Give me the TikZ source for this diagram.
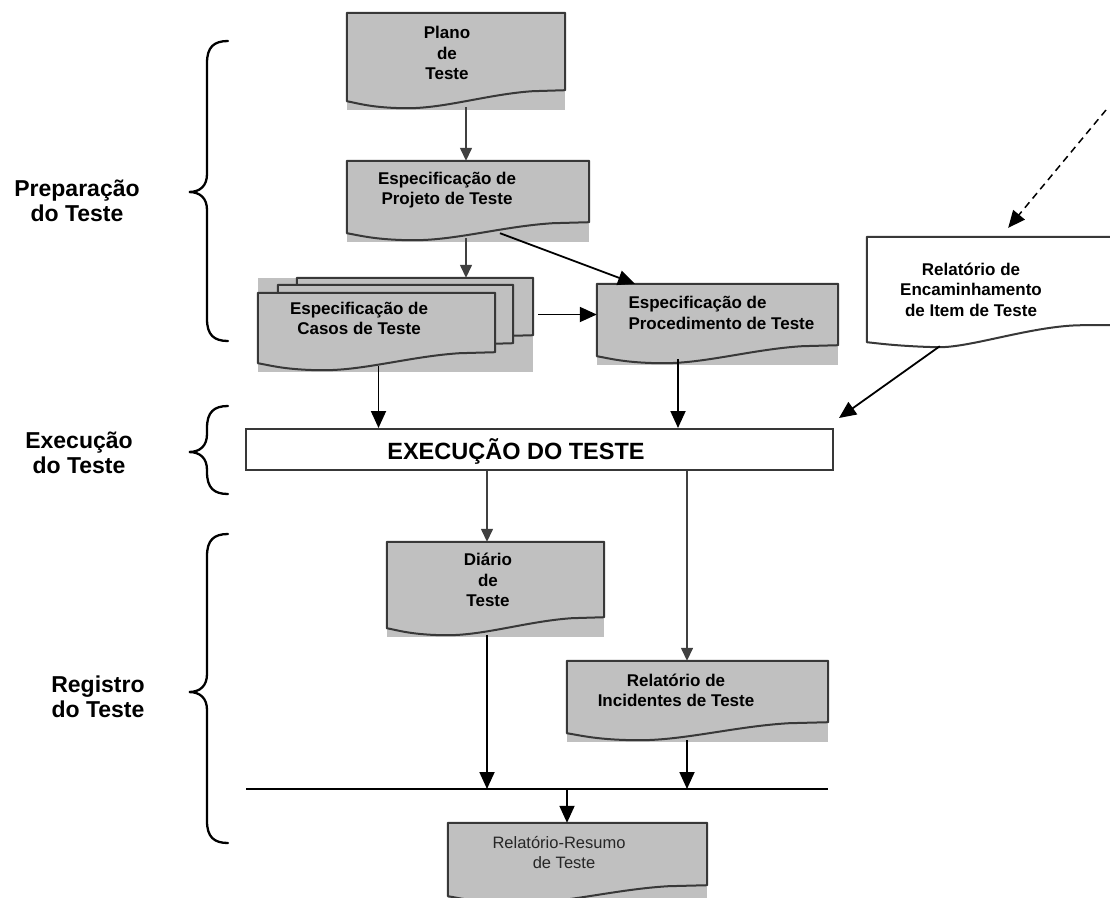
\documentclass[tikz,border=0pt]{standalone}
\usepackage{fontspec}
\setmainfont{Liberation Sans}
\usetikzlibrary{calc}
\usetikzlibrary{arrows.meta}
\definecolor{doc_fill}{HTML}{C0C0C0}
\definecolor{doc_edge}{HTML}{383838}
\definecolor{arrow_gray}{HTML}{404040}
\tikzset{ doc/.style = {rectangle, inner sep=0pt} }
\tikzset{ doc_text/.style = {align=center, font=\bfseries\fontsize{17}{20.5}\selectfont} }
\tikzset{ phase/.style = {align=center, font=\bfseries\fontsize{23}{24.5}\selectfont} }
\tikzset{ flow/.style = {draw=black, line width=1.8pt, -{Triangle[length=17pt,width=15pt]}} }
\tikzset{ flow_gray/.style = {draw=arrow_gray, line width=1.4pt, -{Triangle[length=13pt,width=12pt]}} }
\tikzset{ brace_line/.style = {draw=black, line width=2.3pt, line cap=round} }

% sheet with a wavy lower edge, #1 = node, #2 = fill
\newcommand{\docshape}[2]{%
  \fill[#2] (#1.north west) rectangle ($(#1.south east)+(0,20)$);
  \filldraw[fill=#2, draw=doc_edge, line width=2pt, line join=round]
    ($(#1.south west)+(0,11)$) -- (#1.north west) -- (#1.north east) -- (#1.south east)
    -- ($(#1.south west)!0.85!(#1.south east)+(0,1)$)
    .. controls ($(#1.south west)!0.65!(#1.south east)+(0,4)$) and ($(#1.south west)!0.45!(#1.south east)+(0,18)$)
    .. ($(#1.south west)!0.28!(#1.south east)+(0,18)$)
    .. controls ($(#1.south west)!0.12!(#1.south east)+(0,18)$) and ($(#1.south west)!0.05!(#1.south east)+(0,13)$)
    .. ($(#1.south west)+(0,11)$) -- cycle;
}
% curly bracket on the left, #1 = top, #2 = tip, #3 = bottom
\newcommand{\phasebrace}[3]{%
  \draw[brace_line] (228,#1) .. controls (214,#1) and (207,#1+6) .. (207,#1+22)
    -- (207,#2-18) .. controls (207,#2-6) and (200,#2) .. (189,#2)
    .. controls (200,#2) and (207,#2+6) .. (207,#2+18)
    -- (207,#3-22) .. controls (207,#3-6) and (214,#3) .. (228,#3);
}

\begin{document}
\begin{tikzpicture}[x=1pt, y=-1pt]
    \useasboundingbox (0,0) rectangle (1110,897);

    % documents
    \node [doc, minimum width=218pt, minimum height=77pt] (plano) at (456, 51.5) {};
    \node [doc, minimum width=242pt, minimum height=61pt] (projeto) at (468, 191.5) {};
    \node [doc, minimum width=236pt, minimum height=57pt] (casos3) at (415, 306.5) {};
    \node [doc, minimum width=235pt, minimum height=58pt] (casos2) at (395.5, 314) {};
    \node [doc, minimum width=237pt, minimum height=59pt] (casos) at (376.5, 322.5) {};
    \node [doc, minimum width=241pt, minimum height=61pt] (proced) at (717.5, 314.5) {};
    \node [doc, minimum width=206pt, minimum height=105pt] (encam) at (970, 289.5) {};
    \node [doc, minimum width=217pt, minimum height=75pt] (diario) at (495.5, 579.5) {};
    \node [doc, minimum width=261pt, minimum height=61pt] (incid) at (697.5, 691.5) {};
    \node [doc, minimum width=259pt, minimum height=62pt] (resumo) at (577.5, 854) {};

    \docshape{plano}{doc_fill}
    \docshape{projeto}{doc_fill}
    \fill[doc_fill] (casos.west |- casos3.north) rectangle ($(casos3.east |- casos.south)+(0,20)$);
    \docshape{casos3}{doc_fill}
    \docshape{casos2}{doc_fill}
    \docshape{casos}{doc_fill}
    \docshape{proced}{doc_fill}
    \docshape{diario}{doc_fill}
    \docshape{incid}{doc_fill}
    \docshape{resumo}{doc_fill}
    \filldraw[fill=white, draw=doc_edge, line width=2pt, line join=round]
        (encam.south west) -- (encam.north west) -- ($(encam.north east)+(60,0)$)
        -- ($(encam.south east)+(60,-17)$) -- ($(encam.south east)+(10,-17)$)
        .. controls ($(encam.south east)+(-40,-17)$) and ($(encam.south west)!0.5!(encam.south east)+(0,6)$)
        .. ($(encam.south west)!0.34!(encam.south east)+(0,5)$)
        .. controls ($(encam.south west)!0.15!(encam.south east)+(0,4)$) and ($(encam.south west)+(10,1)$)
        .. (encam.south west) -- cycle;

    \node [doc_text] (plano_t) at (447, 53) {Plano\\de\\Teste};
    \node [doc_text] (projeto_t) at (447, 190) {Especificação de\\Projeto de Teste};
    \node [doc_text] (casos_t) at (359, 318.5) {Especificação de\\Casos de Teste};
    \node [doc_text, align=left, anchor=west] (proced_t) at (625, 313) {Especificação de\\ Procedimento de Teste};
    \node [doc_text] (encam_t) at (971, 289.5) {Relatório de\\Encaminhamento\\de Item de Teste};
    \node [doc_text] (diario_t) at (488, 580) {Diário\\de\\Teste};
    \node [doc_text] (incid_t) at (676, 690.5) {Relatório de\\Incidentes de Teste};
    \node [doc_text, font=\fontsize{16.5}{20}\selectfont, text=black!85] (resumo_t) at (559, 852.5) {Relatório-Resumo\\\hspace*{10pt}de Teste};

    % execution box
    \node [doc, draw=doc_edge, line width=2pt, fill=white, minimum width=587pt, minimum height=41pt] (exec) at (539.5, 449.5) {};
    \node [font=\bfseries\fontsize{23.5}{26}\selectfont] (exec_t) at (516, 451) {EXECUÇÃO DO TESTE};

    % phases
    \phasebrace{41}{192}{341}
    \phasebrace{406}{452}{494}
    \phasebrace{534}{692}{843}
    \node [phase] (prep_t) at (77, 201) {Preparação\\do Teste};
    \node [phase] (execl_t) at (79, 453) {Execução\\do Teste};
    \node [phase] (reg_t) at (98, 697) {Registro\\do Teste};

    % connectors
    \coordinate (bar_l) at (246, 789);
    \coordinate (bar_r) at (828, 789);
    \coordinate (src) at (1106, 110);
    \draw[flow_gray] ([xshift=10pt,yshift=-17pt]plano.south) -- ([xshift=-2pt]projeto.north);
    \draw[flow_gray] ([xshift=-2pt,yshift=-16pt]projeto.south) -- ([xshift=51pt]casos3.north);
    \draw[flow] ([xshift=32pt,yshift=-11pt]projeto.south) -- ([xshift=-82.5pt]proced.north);
    \draw[flow] ($(casos3.east |- proced.west)+(5,0)$) -- (proced.west);
    \draw[flow] ($(casos.south)+(2,14)$) -- ($(casos.south |- exec.north)+(2,0)$);
    \draw[flow] ($(proced.south)+(-39.5,14)$) -- ($(proced.south |- exec.north)+(-39.5,0)$);
    \draw[flow] ($(encam.south west)+(73,4)$) -- ($(exec.north east)+(5,-10)$);
    \draw[flow, line width=1.5pt, dash pattern=on 7pt off 5pt] (src) -- ($(encam.north east)+(-65,-9)$);
    \draw[flow_gray] ($(diario.north |- exec.south)+(-8.5,0)$) -- ($(diario.north)+(-8.5,0)$);
    \draw[flow_gray] ($(incid.north |- exec.south)+(-10.5,0)$) -- ($(incid.north)+(-10.5,0)$);
    \draw[black, line width=1.8pt] (bar_l) -- (bar_r);
    \draw[flow] ($(diario.south)+(-8.5,18)$) -- ($(diario.south |- bar_l)+(-8.5,0)$);
    \draw[flow] ($(incid.south)+(-10.5,18)$) -- ($(incid.south |- bar_l)+(-10.5,0)$);
    \draw[flow] ($(resumo.north |- bar_l)+(-10.5,0)$) -- ($(resumo.north)+(-10.5,0)$);
\end{tikzpicture}
\end{document}
